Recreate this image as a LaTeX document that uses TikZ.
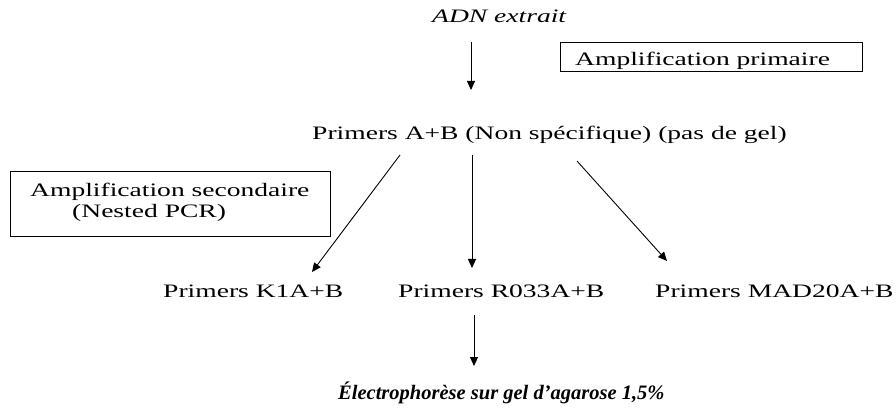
\documentclass[tikz,border=0pt]{standalone}
\usepackage{fontspec}
\setmainfont[FakeStretch=1.45]{Liberation Serif}
\newfontfamily\elecfont{Liberation Serif}
\usetikzlibrary{arrows.meta}
\tikzset{
  lbl/.style={inner sep=0pt, anchor=base west, font=\fontsize{19}{22}\selectfont},
  framebox/.style={draw=black, line width=1pt},
  arr/.style={draw=black, line width=0.9pt, -{Triangle[length=9pt,width=8pt]}}
}
\begin{document}
\begin{tikzpicture}[x=1pt,y=-1pt]
\useasboundingbox (0,0) rectangle (896,419);
% texts
\node[lbl, font=\fontsize{19}{22}\selectfont\itshape] (adn) at (432,23) {ADN extrait};
\node[lbl] (prim) at (312,140) {Primers A+B (Non spécifique) (pas de gel)};
\node[lbl] (k1) at (163,298) {Primers K1A+B};
\node[lbl] (r033) at (398,298) {Primers R033A+B};
\node[lbl] (mad) at (655,298) {Primers MAD20A+B};
\node[lbl, font=\fontsize{20.5}{22}\selectfont\elecfont\bfseries\itshape] (elec) at (338,399) {Électrophorèse sur gel d’agarose 1,5\%};
% boxes
\draw[framebox] (560,43) rectangle (862,72);
\node[lbl] (ampP) at (575,66) {Amplification primaire};
\draw[framebox] (10,172) rectangle (330,237);
\node[lbl] (ampS1) at (30,197) {Amplification secondaire};
\node[lbl] (ampS2) at (72,218) {(Nested PCR)};
% arrow ends
\coordinate (a0s) at (471,42);
\coordinate (a0e) at (471,90);
\coordinate (a1s) at (400,155);
\coordinate (a1e) at (312,272);
\coordinate (a2s) at (472,155);
\coordinate (a2e) at (472,268);
\coordinate (a3s) at (577,161);
\coordinate (a3e) at (667,261);
\coordinate (a4s) at (474,315);
\coordinate (a4e) at (474,366);
\draw[arr] (a0s) -- (a0e);
\draw[arr] (a1s) -- (a1e);
\draw[arr] (a2s) -- (a2e);
\draw[arr] (a3s) -- (a3e);
\draw[arr] (a4s) -- (a4e);
\end{tikzpicture}
\end{document}
